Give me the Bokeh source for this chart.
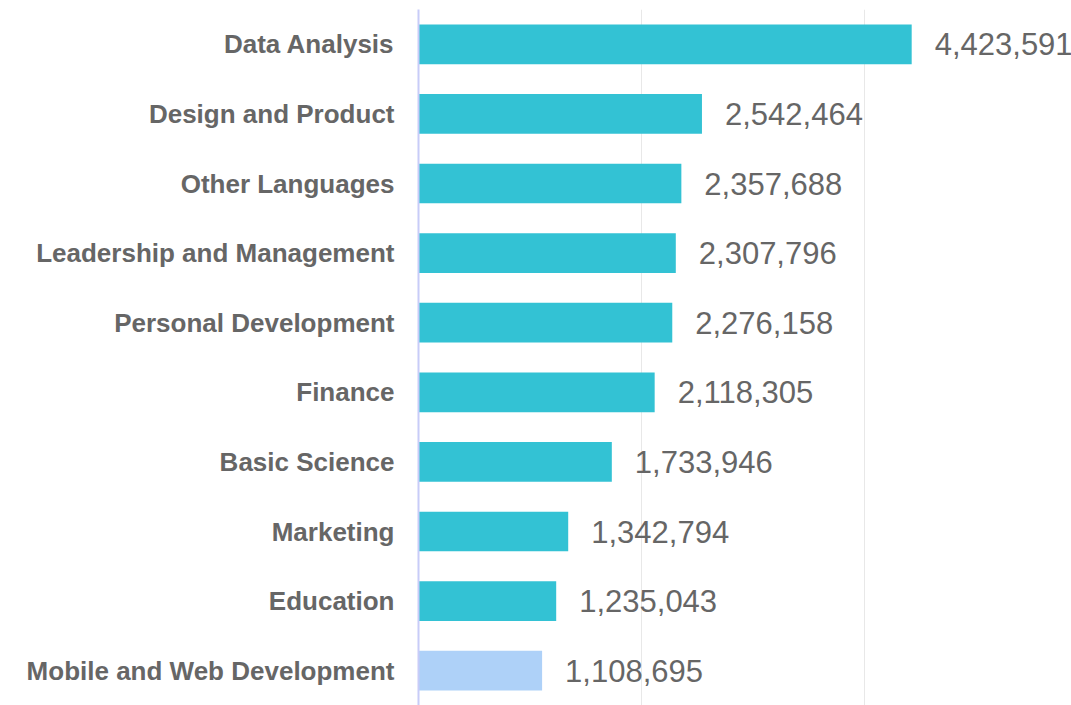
from bokeh.plotting import figure
from bokeh.models import ColumnDataSource, FixedTicker
from bokeh.core.properties import value
from bokeh.embed import file_html
from bokeh.resources import INLINE

categories = ["Data Analysis", "Design and Product", "Other Languages",
              "Leadership and Management", "Personal Development", "Finance",
              "Basic Science", "Marketing", "Education", "Mobile and Web Development"]
counts = [4423591, 2542464, 2357688, 2307796, 2276158, 2118305,
          1733946, 1342794, 1235043, 1108695]
colors = ["#33c2d4"] * 9 + ["#aed1f8"]
labels = [f"{v:,}" for v in counts]

src = ColumnDataSource(dict(cat=categories, val=counts, color=colors, label=labels))

p = figure(width=1071, height=705, output_backend="svg", toolbar_location=None,
           y_range=list(reversed(categories)), x_range=(0, 5857000),
           min_border_left=418, min_border_right=0, min_border_top=9, min_border_bottom=0)
p.outline_line_color = None
p.hbar(y="cat", right="val", left=0, height=0.57, color="color", source=src, line_color=None)
p.text(x="val", y="cat", text="label", source=src, x_offset=23, text_baseline="middle",
       text_align="left", text_font=value("Liberation Sans"), text_font_size="31px",
       text_color="#666666")

p.xaxis.visible = False
p.xgrid.ticker = FixedTicker(ticks=[0, 2000000, 4000000])
p.xgrid.grid_line_color = "#e8e8e8"
p.ygrid.grid_line_color = None

ax = p.yaxis[0]
ax.axis_line_color = "#c8ccf8"
ax.axis_line_width = 2
ax.major_tick_line_color = None
ax.minor_tick_line_color = None
ax.major_label_text_font = "Liberation Sans"
ax.major_label_text_font_style = "bold"
ax.major_label_text_font_size = "26px"
ax.major_label_text_color = "#666666"
ax.major_label_standoff = 18

open("out.html", "w").write(file_html(p, INLINE))
